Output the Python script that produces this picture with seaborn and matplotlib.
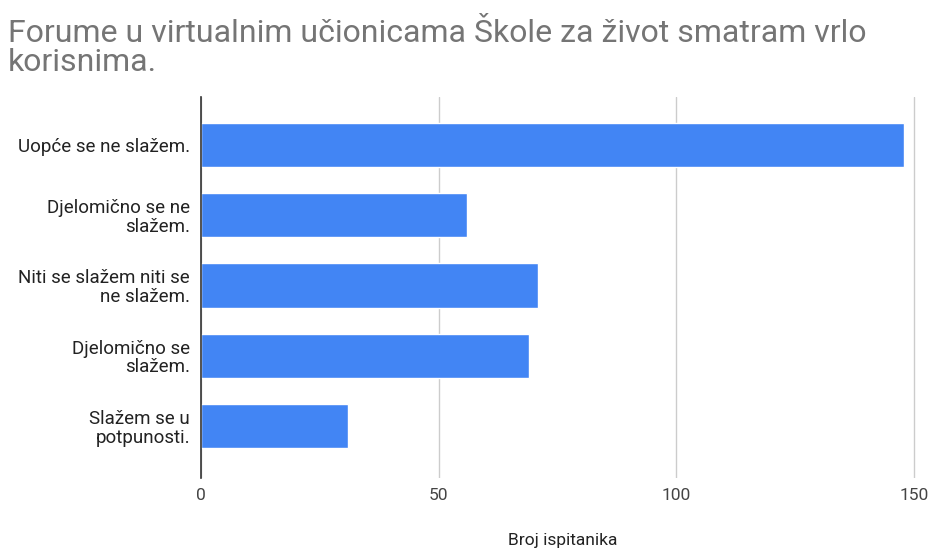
import matplotlib
matplotlib.use("Agg")
import matplotlib.pyplot as plt
import seaborn as sns
import pandas as pd

categories = ["Uopće se ne slažem.", "Djelomično se ne\nslažem.", "Niti se slažem niti se\nne slažem.",
              "Djelomično se\nslažem.", "Slažem se u\npotpunosti."]
values = [148, 56, 71, 69, 31]
title = "Forume u virtualnim učionicama Škole za život smatram vrlo\nkorisnima."
xlabel = "Broj ispitanika"
xticks = [0, 50, 100, 150]

sns.set_theme(style="white")
plt.rcParams['font.family'] = ['Roboto', 'DejaVu Sans']

df = pd.DataFrame({"cat": categories, "val": values})

fig = plt.figure(figsize=(9.29, 5.49), dpi=100)
x0, x150 = 201, 914
ppu = (x150 - x0) / 150
xmax = 152
ax = fig.add_axes([x0/929, 1-478/549, xmax*ppu/929, (478-97)/549])
sns.barplot(data=df, y="cat", x="val", orient="h", color="#4285F4", saturation=1,
            width=0.63, ax=ax)
ax.set_xlim(0, xmax)
ax.set_ylim(4.74, -0.683)
ax.set_xticks(xticks)
ax.set_xticklabels([str(t) for t in xticks], fontsize=12.5, color="#444444")
ax.tick_params(axis="x", length=0, pad=7)
ax.tick_params(axis="y", length=0, pad=8, labelsize=13.5, labelcolor="#222222")
for lab in ax.get_yticklabels():
    lab.set_horizontalalignment("right")
    lab.set_linespacing(1.05)
ax.set_ylabel("")
ax.set_xlabel(xlabel, fontsize=12.5, color="#222222", labelpad=22)
ax.grid(axis="x", color="#cccccc", linewidth=1)
ax.set_axisbelow(True)
for s in ["top", "right", "bottom"]:
    ax.spines[s].set_visible(False)
ax.spines["left"].set_color("#333333")
ax.spines["left"].set_linewidth(1.2)
ax.spines["left"].set_zorder(5)

fig.text(8/929, 1-19/549, title, fontsize=23, color="#757575", ha="left", va="top",
         linespacing=1.0)

fig.savefig("out.png", dpi=100)
